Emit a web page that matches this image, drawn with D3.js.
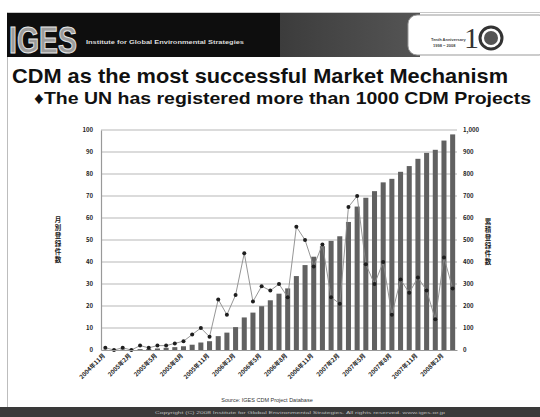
<!DOCTYPE html>
<html>
<head>
<meta charset="utf-8">
<script src="https://cdn.jsdelivr.net/npm/d3@7"></script>
<style>
  html, body { margin: 0; padding: 0; background: #fff; }
  svg { display: block; font-family: "Liberation Sans", Arial, sans-serif; }
</style>
</head>
<body>
<svg id="chart" width="540" height="417"></svg>
<script>
// ---- data ----
const months = ["2004/11","2004/12","2005/01","2005/02","2005/03","2005/04","2005/05","2005/06","2005/07","2005/08",
  "2005/09","2005/10","2005/11","2005/12","2006/01","2006/02","2006/03","2006/04","2006/05","2006/06",
  "2006/07","2006/08","2006/09","2006/10","2006/11","2006/12","2007/01","2007/02","2007/03","2007/04",
  "2007/05","2007/06","2007/07","2007/08","2007/09","2007/10","2007/11","2007/12","2008/01","2008/02","2008/03"];
const monthly = [1,0,1,0,2,1,2,2,3,4,7,10,6,23,16,25,44,22,29,27,30,24,56,50,38,48,24,21,65,70,39,30,40,16,32,26,33,27,14,42,28];
const cumulative = [1,1,2,2,4,5,7,10,13,17,24,34,40,63,79,104,148,170,199,226,256,280,336,386,424,472,496,517,582,652,692,722,762,778,810,836,869,896,910,952,980];
const tickMonths = ["2004/11","2005/02","2005/05","2005/08","2005/11","2006/02","2006/05","2006/08","2006/11","2007/02","2007/05","2007/08","2007/11","2008/02"];
const tickLabels = ["2004年11月","2005年2月","2005年5月","2005年8月","2005年11月","2006年2月","2006年5月","2006年8月","2006年11月","2007年2月","2007年5月","2007年8月","2007年11月","2008年2月"];
const leftTicks = [0,10,20,30,40,50,60,70,80,90,100];
const rightTicks = [0,100,200,300,400,500,600,700,800,900,1000];
const leftTitle = "月別登録件数";
const rightTitle = "累積登録件数";
const titleText = "CDM as the most successful Market Mechanism";
const subtitleText = "\u2666The UN has registered more than 1000 CDM Projects";
const sourceText = "Source: IGES CDM Project Database";

const svg = d3.select("#chart");

// ---- slide frame / header ----
svg.append("rect").attr("x",0).attr("y",0).attr("width",540).attr("height",417).attr("fill","#fff");
svg.append("line").attr("x1",7).attr("x2",540).attr("y1",12.5).attr("y2",12.5).attr("stroke","#c8c8c8");
svg.append("line").attr("x1",7.5).attr("x2",7.5).attr("y1",12).attr("y2",408).attr("stroke","#bdbdbd");
svg.append("rect").attr("x",7).attr("y",13).attr("width",275).attr("height",44).attr("fill","#0e0e0e");
const g1 = svg.append("defs").append("linearGradient").attr("id","hg").attr("x1","0").attr("x2","1");
g1.append("stop").attr("offset","0").attr("stop-color","#3c3c3c");
g1.append("stop").attr("offset","1").attr("stop-color","#555");
svg.append("rect").attr("x",280).attr("y",13).attr("width",140).attr("height",44).attr("fill","url(#hg)");
svg.append("rect").attr("x",408).attr("y",15).attr("width",140).attr("height",40).attr("rx",9).attr("fill","#fff").attr("stroke","#999");
svg.append("text").attr("x",9).attr("y",53).attr("font-size",36).attr("font-weight","bold")
  .attr("fill","#9c9c9c").attr("stroke","#e8e8e8").attr("stroke-width",1).attr("textLength",68).attr("lengthAdjust","spacingAndGlyphs").text("IGES");
svg.append("text").attr("x",86).attr("y",44).attr("font-size",5).attr("font-weight","bold").attr("fill","#ddd")
  .attr("textLength",158).attr("lengthAdjust","spacingAndGlyphs").text("Institute for Global Environmental Strategies");
svg.append("text").attr("x",431).attr("y",41).attr("font-size",4).attr("font-weight","bold").attr("fill","#444").text("Tenth Anniversary");
svg.append("text").attr("x",433).attr("y",47).attr("font-size",4).attr("font-weight","bold").attr("fill","#444").text("1998 ~ 2008");
svg.append("text").attr("x",464).attr("y",48).attr("font-size",30).attr("font-family","Liberation Serif").attr("fill","#333").text("1");
svg.append("circle").attr("cx",491).attr("cy",38).attr("r",11).attr("fill","#fff").attr("stroke","#333").attr("stroke-width",3);
svg.append("circle").attr("cx",491).attr("cy",38).attr("r",7).attr("fill","#555");

// ---- titles ----
svg.append("text").attr("x",12).attr("y",83).attr("font-size",21).attr("font-weight","bold").attr("fill","#111")
  .attr("textLength",496).attr("lengthAdjust","spacingAndGlyphs").text(titleText);
svg.append("text").attr("x",34).attr("y",104).attr("font-size",17).attr("font-weight","bold").attr("fill","#111")
  .attr("textLength",497).attr("lengthAdjust","spacingAndGlyphs").text(subtitleText);

// ---- chart ----
const plot = {l:101, r:457, t:130, b:350};
const x = d3.scaleBand().domain(months).range([plot.l, plot.r]).paddingInner(0.42).paddingOuter(0.21);
const yL = d3.scaleLinear().domain([0,100]).range([plot.b, plot.t]);
const yR = d3.scaleLinear().domain([0,1000]).range([plot.b, plot.t]);

// gridlines
svg.append("g").selectAll("line").data(rightTicks.filter(d=>d>0)).join("line")
  .attr("x1",plot.l).attr("x2",plot.r).attr("y1",d=>yR(d)).attr("y2",d=>yR(d))
  .attr("stroke","#cfcfcf").attr("stroke-width",1.6);

// bars
svg.append("g").selectAll("rect").data(months).join("rect")
  .attr("x",d=>x(d)).attr("width",x.bandwidth())
  .attr("y",(d,i)=>yR(cumulative[i])).attr("height",(d,i)=>plot.b - yR(cumulative[i]))
  .attr("fill","#616161");

// line + markers
const cx = d=>x(d)+x.bandwidth()/2;
svg.append("path").datum(months)
  .attr("d", d3.line().x(cx).y((d,i)=>yL(monthly[i])))
  .attr("fill","none").attr("stroke","#8a8a8a").attr("stroke-width",0.9);
svg.append("g").selectAll("circle").data(months).join("circle")
  .attr("cx",cx).attr("cy",(d,i)=>yL(monthly[i])).attr("r",2).attr("fill","#1e1e1e");

// axes
const axL = d3.axisLeft(yL).tickValues(leftTicks).tickSize(0).tickPadding(8);
const gL = svg.append("g").attr("transform",`translate(${plot.l},0)`).call(axL);
const axR = d3.axisRight(yR).tickValues(rightTicks).tickSize(0).tickPadding(7).tickFormat(d3.format(","));
const gR = svg.append("g").attr("transform",`translate(${plot.r-1},0)`).call(axR);
const axB = d3.axisBottom(x).tickValues(tickMonths).tickSize(0).tickPadding(4)
  .tickFormat(d=>tickLabels[tickMonths.indexOf(d)]);
const gB = svg.append("g").attr("transform",`translate(0,${plot.b})`).call(axB);
[gL,gR,gB].forEach(g=>{
  g.selectAll("text").attr("font-size",6).attr("font-weight","bold").attr("fill","#222")
    .attr("font-family","'Noto Sans CJK JP', 'Liberation Sans', sans-serif");
});
gL.select(".domain").attr("stroke","#999").attr("stroke-width",1.2);
gR.select(".domain").remove();
gB.select(".domain").attr("stroke","#999").attr("stroke-width",1.2);
gB.selectAll("text").attr("text-anchor","end").attr("dy","0.3em")
  .attr("transform","translate(-4,2) rotate(-45)")
  .attr("x",0).attr("y",4);

// vertical axis titles (upright vertical writing)
function vTitle(str, xPos, yTop){
  svg.append("text").attr("x",xPos).attr("y",yTop)
    .attr("font-size",6.5).attr("font-weight","bold").attr("fill","#222")
    .attr("font-family","'Noto Sans CJK JP', sans-serif")
    .style("writing-mode","vertical-rl").style("text-orientation","upright")
    .style("letter-spacing","1.5px")
    .text(str);
}
vTitle(leftTitle, 58, 216);
vTitle(rightTitle, 488, 218);

// source
svg.append("text").attr("x",267).attr("y",402).attr("text-anchor","middle").attr("font-size",5.5).attr("fill","#333")
  .text(sourceText);

// bottom bar
svg.append("rect").attr("x",0).attr("y",407).attr("width",540).attr("height",10).attr("fill","#3a3a3a");
svg.append("text").attr("x",300).attr("y",414).attr("text-anchor","middle").attr("font-size",4.2).attr("fill","#bbb")
  .attr("textLength",290).attr("lengthAdjust","spacingAndGlyphs")
  .text("Copyright (C) 2008 Institute for Global Environmental Strategies. All rights reserved.  www.iges.or.jp");
</script>
</body>
</html>
